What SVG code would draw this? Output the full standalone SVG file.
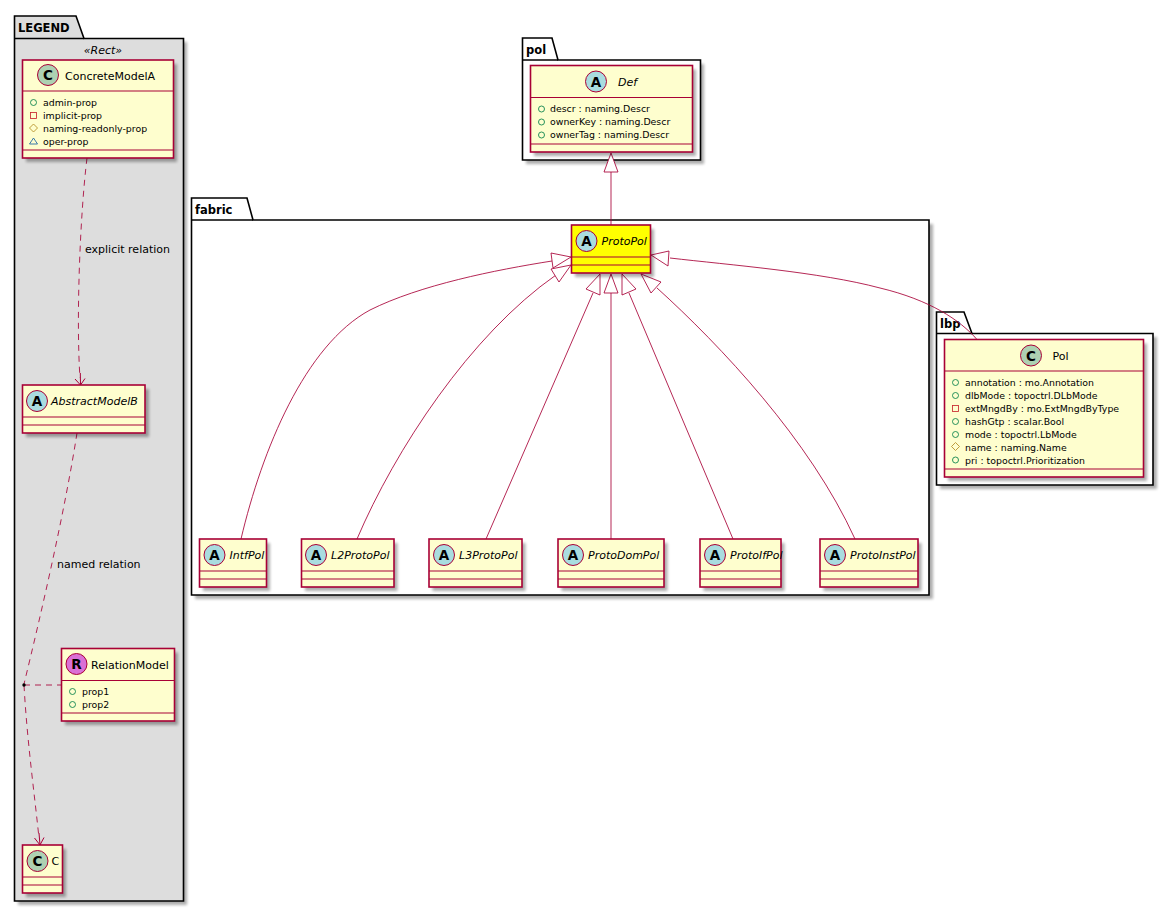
<svg xmlns="http://www.w3.org/2000/svg" width="1173" height="912" viewBox="0 0 1173 912">
<defs>
<style>
text{font-family:"DejaVu Sans",sans-serif;fill:#000}
.pk{font-size:11.5px;font-weight:bold}
.pkb{fill:#fff;stroke:#000;stroke-width:1.6}
.pkl{fill:#ddd;stroke:#000;stroke-width:1.6}
.cl{fill:#fefece;stroke:#a80036;stroke-width:1.6}
.sep{stroke:#a80036;stroke-width:1.2;fill:none}
.sh{fill:#000;opacity:.32;filter:url(#b)}
.nm{font-size:11px}
.it{font-style:italic}
.at{font-size:9.4px}
.ln{fill:none;stroke:#a80036;stroke-width:.85}
.d{stroke-dasharray:6 5}
.tri{fill:#fff;stroke:#a80036;stroke-width:.85}
.cc{stroke:#a80036;stroke-width:.85}
.gl{font-size:13.5px;font-weight:bold;text-anchor:middle}
.lb{font-size:11px}
.pub{fill:none;stroke:#038048;stroke-width:.85}
.pri{fill:none;stroke:#c82930;stroke-width:.85}
.pro{fill:none;stroke:#b38d22;stroke-width:.85}
.pac{fill:none;stroke:#1963a0;stroke-width:.85}
</style>
<filter id="b" x="-20%" y="-20%" width="140%" height="140%"><feGaussianBlur stdDeviation="1.6"/></filter>
</defs>

<g id="pkg-LEGEND">
<rect class="sh" x="18" y="42" width="169" height="863"/>
<path class="pkl" d="M14.5 38.5V16H76L84 38.5H183.5V901H14.5Z"/>
<path class="pkl" d="M14.5 38.5H84" fill="none"/>
<text class="pk" x="18" y="32">LEGEND</text>
<text x="103" y="54" font-size="11" font-style="italic" text-anchor="middle">«Rect»</text>
</g>
<g id="pkg-pol">
<rect class="sh" x="526" y="64" width="178" height="100"/>
<path class="pkb" d="M522.5 60V38H552L558 60H700.5V160H522.5Z"/>
<path class="pkb" d="M522.5 60H558"/>
<text class="pk" x="526" y="54">pol</text>
</g>
<g id="pkg-fabric">
<rect class="sh" x="195" y="224" width="738" height="375"/>
<path class="pkb" d="M191.5 220V198H247L253 220H929V595H191.5Z"/>
<path class="pkb" d="M191.5 220H253"/>
<text class="pk" x="195" y="214">fabric</text>
</g>
<g id="pkg-lbp">
<rect class="sh" x="940" y="337" width="217" height="152"/>
<path class="pkb" d="M936.5 333.5V312H964L972 333.5H1153V485H936.5Z"/>
<path class="pkb" d="M936.5 333.5H972"/>
<text class="pk" x="940" y="328">lbp</text>
</g>

<g id="connectors">
<path class="ln d" d="M87 158C80 215 76 320 80 378"/>
<path class="ln" style="stroke-width:1" d="M75 379L80.500 385L85 378.500M80.500 385L80.300 373"/>
<path class="ln d" d="M77 433C65 510 42 610 24 684"/>
<path class="ln d" d="M24 685H61"/>
<path class="ln d" d="M24 685C27 740 34 790 39 838"/>
<path class="ln" style="stroke-width:1" d="M34.500 838L40 845L44 837.500M40 845L39 833"/>
<circle cx="24" cy="685" r="1.700" fill="#000"/>

<path class="ln" d="M611 172V225"/>
<path class="tri" d="M611 153L604 172H618Z"/>

<path class="ln" d="M241 539C262 450 305 345 370 310C420 285 495 270 552 261"/>
<path class="tri" d="M571 257L551 253L553 268Z"/>
<path class="ln" d="M357 539C395 450 470 335 556 275"/>
<path class="tri" d="M571 265L551 269L559 282Z"/>
<path class="ln" d="M486 539L593 293"/>
<path class="tri" d="M600 274L586 289L600 295Z"/>
<path class="ln" d="M611 539V293"/>
<path class="tri" d="M611 274L604 293H618Z"/>
<path class="ln" d="M733 539L629 293"/>
<path class="tri" d="M622 274L622 295L636 289Z"/>
<path class="ln" d="M855 539C810 440 720 345 657 288"/>
<path class="tri" d="M641 274L651 293L661 282Z"/>
<path class="ln" d="M977 339.500C960 320 930 300 880 288C820 272 730 265 670 258"/>
<path class="tri" d="M651 255L669 251L668 266Z"/>
</g>

<g id="lbl">
<text class="lb" x="85" y="253">explicit relation</text>
<text class="lb" x="57" y="568">named relation</text>
</g>

<g id="ConcreteModelA">
<rect class="sh" x="26" y="64" width="151" height="98"/>
<rect class="cl" x="22.500" y="60" width="151" height="98"/>
<path class="sep" d="M22.500 91H173.500M22.500 150H173.500"/>
<circle cx="48" cy="75" r="10.500" fill="#add1b2" stroke="#a80036"/>
<text class="gl" x="48" y="80">C</text>
<text class="nm" x="65" y="79.500">ConcreteModelA</text>
<circle class="pub" cx="33.500" cy="102.500" r="3"/><text class="at" x="43" y="106">admin-prop</text>
<rect class="pri" x="30.500" y="112.500" width="6" height="6"/><text class="at" x="43" y="119">implicit-prop</text>
<path class="pro" d="M33.500 124L37.500 128L33.500 132L29.500 128Z"/><text class="at" x="43" y="132">naming-readonly-prop</text>
<path class="pac" d="M33.500 138L37.500 144H29.500Z"/><text class="at" x="43" y="145">oper-prop</text>
</g>
<g id="AbstractModelB">
<rect class="sh" x="26" y="389" width="123" height="48"/>
<rect class="cl" x="22.500" y="385" width="122.500" height="48"/>
<path class="sep" d="M22.500 417H145M22.500 425H145"/>
<circle cx="37" cy="401" r="10.500" fill="#a9dcdf" stroke="#a80036"/>
<text class="gl" x="37" y="406">A</text>
<text class="nm it" x="51" y="405">AbstractModelB</text>
</g>
<g id="RelationModel">
<rect class="sh" x="65" y="652.500" width="113" height="72.500"/>
<rect class="cl" x="61.500" y="648.500" width="113" height="72.500"/>
<path class="sep" d="M61.500 680.500H174.500M61.500 713H174.500"/>
<circle cx="76.500" cy="664" r="10.500" fill="#da70d6" stroke="#a80036"/>
<text class="gl" x="76.500" y="669">R</text>
<text class="nm" x="91" y="668.500">RelationModel</text>
<circle class="pub" cx="72.500" cy="691.500" r="3"/><text class="at" x="82" y="695">prop1</text>
<circle class="pub" cx="72.500" cy="704.500" r="3"/><text class="at" x="82" y="708">prop2</text>
</g>
<g id="C">
<rect class="sh" x="26" y="849" width="40" height="48"/>
<rect class="cl" x="22.500" y="845" width="40" height="48"/>
<path class="sep" d="M22.500 877H62.500M22.500 885H62.500"/>
<circle cx="37.500" cy="861" r="10.500" fill="#add1b2" stroke="#a80036"/>
<text class="gl" x="37.500" y="866">C</text>
<text class="nm" x="51.500" y="865">C</text>
</g>
<g id="Def">
<rect class="sh" x="534" y="69.500" width="162" height="86.500"/>
<rect class="cl" x="530.500" y="65.500" width="162" height="86.500"/>
<path class="sep" d="M530.500 97.500H692.500M530.500 144H692.500"/>
<circle cx="596" cy="81.500" r="10.500" fill="#a9dcdf" stroke="#a80036"/>
<text class="gl" x="596" y="86.500">A</text>
<text class="nm it" x="618" y="85.500">Def</text>
<circle class="pub" cx="541.500" cy="109" r="3"/><text class="at" x="550" y="112">descr : naming.Descr</text>
<circle class="pub" cx="541.500" cy="122" r="3"/><text class="at" x="550" y="125">ownerKey : naming.Descr</text>
<circle class="pub" cx="541.500" cy="135" r="3"/><text class="at" x="550" y="138">ownerTag : naming.Descr</text>
</g>
<g id="ProtoPol">
<rect class="sh" x="575" y="229" width="79" height="48"/>
<rect class="cl" style="fill:#ff0" x="571.500" y="225" width="79" height="48"/>
<path class="sep" d="M571.500 257H650.500M571.500 265H650.500"/>
<circle cx="586.500" cy="241" r="10.500" fill="#a9dcdf" stroke="#a80036"/>
<text class="gl" x="586.500" y="246">A</text>
<text class="nm it" x="601.500" y="245">ProtoPol</text>
</g>
<g id="IntfPol">
<rect class="sh" x="203" y="543" width="67" height="48"/>
<rect class="cl" x="199.500" y="539" width="67" height="48"/>
<path class="sep" d="M199.500 571H266.500M199.500 579H266.500"/>
<circle cx="214.500" cy="555" r="10.500" fill="#a9dcdf" stroke="#a80036"/>
<text class="gl" x="214.500" y="560">A</text>
<text class="nm it" x="229.500" y="559">IntfPol</text>
</g>
<g id="L2ProtoPol">
<rect class="sh" x="305" y="543" width="92.500" height="48"/>
<rect class="cl" x="301.500" y="539" width="92.500" height="48"/>
<path class="sep" d="M301.500 571H394M301.500 579H394"/>
<circle cx="316" cy="555" r="10.500" fill="#a9dcdf" stroke="#a80036"/>
<text class="gl" x="316" y="560">A</text>
<text class="nm it" x="331" y="559">L2ProtoPol</text>
</g>
<g id="L3ProtoPol">
<rect class="sh" x="432.500" y="543" width="93" height="48"/>
<rect class="cl" x="429" y="539" width="93" height="48"/>
<path class="sep" d="M429 571H522M429 579H522"/>
<circle cx="444" cy="555" r="10.500" fill="#a9dcdf" stroke="#a80036"/>
<text class="gl" x="444" y="560">A</text>
<text class="nm it" x="459" y="559">L3ProtoPol</text>
</g>
<g id="ProtoDomPol">
<rect class="sh" x="561.500" y="543" width="106" height="48"/>
<rect class="cl" x="558" y="539" width="106" height="48"/>
<path class="sep" d="M558 571H664M558 579H664"/>
<circle cx="573" cy="555" r="10.500" fill="#a9dcdf" stroke="#a80036"/>
<text class="gl" x="573" y="560">A</text>
<text class="nm it" x="588" y="559">ProtoDomPol</text>
</g>
<g id="ProtoIfPol">
<rect class="sh" x="703.500" y="543" width="81" height="48"/>
<rect class="cl" x="700" y="539" width="81" height="48"/>
<path class="sep" d="M700 571H781M700 579H781"/>
<circle cx="715" cy="555" r="10.500" fill="#a9dcdf" stroke="#a80036"/>
<text class="gl" x="715" y="560">A</text>
<text class="nm it" x="730" y="559">ProtoIfPol</text>
</g>
<g id="ProtoInstPol">
<rect class="sh" x="823.500" y="543" width="98" height="48"/>
<rect class="cl" x="820" y="539" width="98" height="48"/>
<path class="sep" d="M820 571H918M820 579H918"/>
<circle cx="835" cy="555" r="10.500" fill="#a9dcdf" stroke="#a80036"/>
<text class="gl" x="835" y="560">A</text>
<text class="nm it" x="850" y="559">ProtoInstPol</text>
</g>
<g id="Pol">
<rect class="sh" x="948" y="343.500" width="199" height="137.500"/>
<rect class="cl" x="944.500" y="339.500" width="199" height="137.500"/>
<path class="sep" d="M944.500 371H1143.500M944.500 469H1143.500"/>
<circle cx="1031" cy="355.500" r="10.500" fill="#add1b2" stroke="#a80036"/>
<text class="gl" x="1031" y="360.500">C</text>
<text class="nm" x="1052.500" y="360">Pol</text>
<circle class="pub" cx="955.500" cy="382.500" r="3"/><text class="at" x="965" y="386">annotation : mo.Annotation</text>
<circle class="pub" cx="955.500" cy="395.500" r="3"/><text class="at" x="965" y="399">dlbMode : topoctrl.DLbMode</text>
<rect class="pri" x="952.500" y="405.500" width="6" height="6"/><text class="at" x="965" y="412">extMngdBy : mo.ExtMngdByType</text>
<circle class="pub" cx="955.500" cy="421.500" r="3"/><text class="at" x="965" y="425">hashGtp : scalar.Bool</text>
<circle class="pub" cx="955.500" cy="434.500" r="3"/><text class="at" x="965" y="438">mode : topoctrl.LbMode</text>
<path class="pro" d="M955.500 442.500L959.500 446.500L955.500 450.500L951.500 446.500Z"/><text class="at" x="965" y="451">name : naming.Name</text>
<circle class="pub" cx="955.500" cy="460" r="3"/><text class="at" x="965" y="464">pri : topoctrl.Prioritization</text>
</g>
</svg>
